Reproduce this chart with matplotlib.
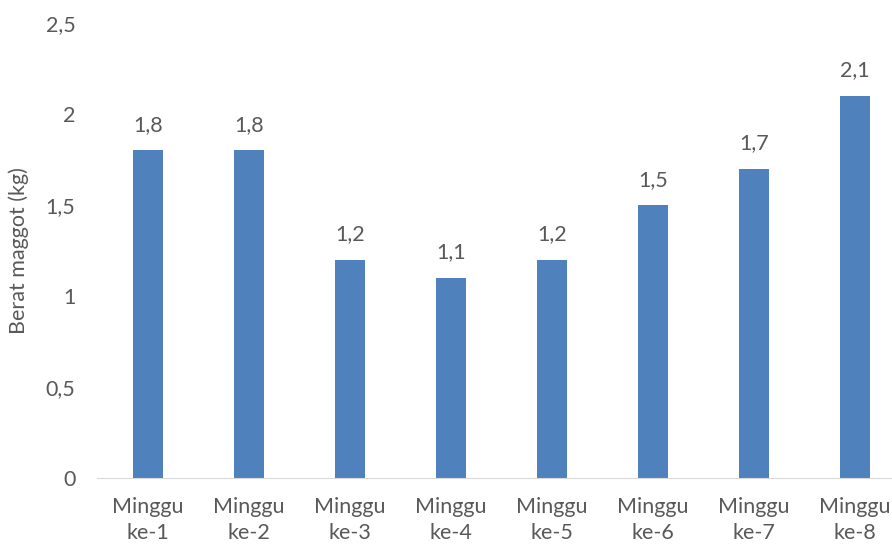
import matplotlib.pyplot as plt
import numpy as np

categories = ['Minggu\nke-1', 'Minggu\nke-2', 'Minggu\nke-3', 'Minggu\nke-4',
              'Minggu\nke-5', 'Minggu\nke-6', 'Minggu\nke-7', 'Minggu\nke-8']
berat = [1.8, 1.8, 1.2, 1.1, 1.2, 1.5, 1.7, 2.1]
yticks = [0, 0.5, 1, 1.5, 2, 2.5]

plt.rcParams['font.family'] = ['Lato', 'DejaVu Sans']
grey = '#595959'
fs = 15.5

fig = plt.figure(figsize=(8.92, 5.51), dpi=100)
ax = fig.add_axes([0.1093, 0.1325, 0.906, 0.8258])

x = np.arange(len(categories))
ax.bar(x, berat, width=0.3, color='#4F81BD')
for xi, v in zip(x, berat):
    ax.annotate(f'{v:.1f}'.replace('.', ','), (xi, v), xytext=(0, 11),
                textcoords='offset points', ha='center', va='bottom',
                fontsize=fs, color=grey)

ax.set_xlim(-0.5, len(categories) - 0.5)
ax.set_ylim(0, 2.5)
ax.set_yticks(yticks)
ax.set_yticklabels([f'{t:g}'.replace('.', ',') for t in yticks])
ax.set_xticks(x)
ax.set_xticklabels(categories, linespacing=1.35)
ax.tick_params(axis='both', length=0, labelsize=fs, colors=grey)
ax.tick_params(axis='y', pad=16)
ax.tick_params(axis='x', pad=14)

for s in ['top', 'right', 'left']:
    ax.spines[s].set_visible(False)
ax.spines['bottom'].set_color('#D9D9D9')

ax.set_ylabel('Berat maggot (kg)', fontsize=fs, color=grey)
ax.yaxis.set_label_coords(-0.085, 0.5)

fig.savefig('out.png', dpi=100)
